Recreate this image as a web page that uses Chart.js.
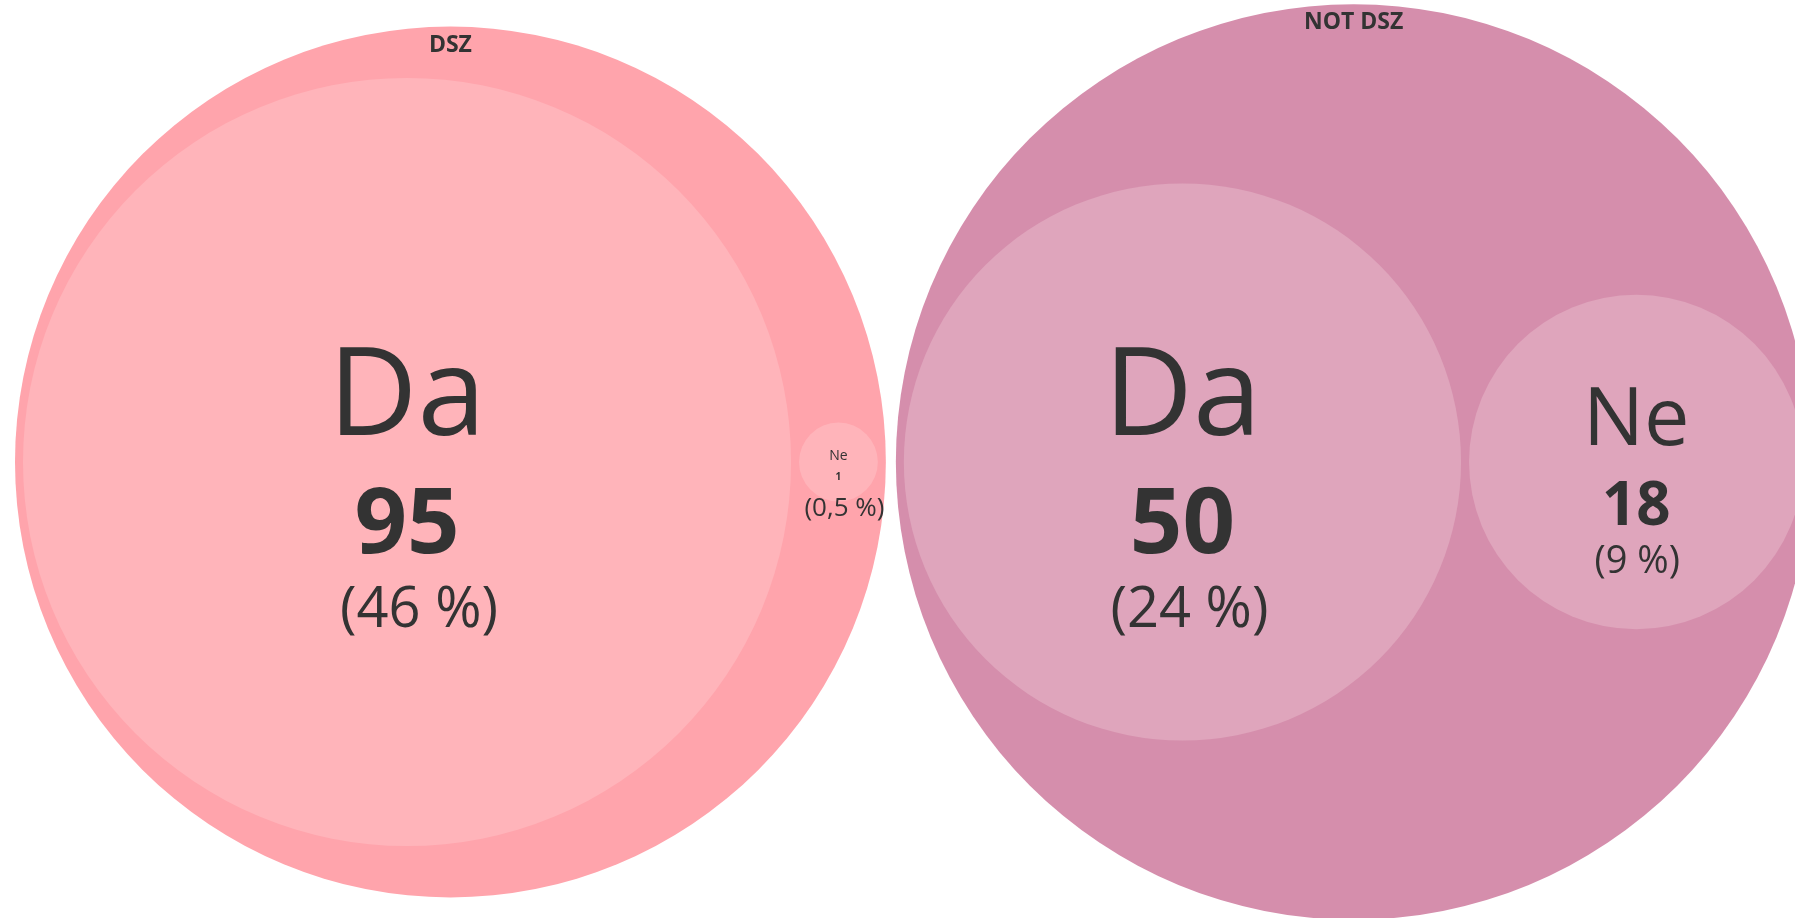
<!DOCTYPE html>
<html>
<head>
<meta charset="utf-8">
<script src="https://cdn.jsdelivr.net/npm/chart.js@4.4.1/dist/chart.umd.min.js"></script>
<style>
  html, body { margin: 0; padding: 0; background: #ffffff; overflow: hidden; }
  #wrap { width: 1795px; height: 918px; }
</style>
</head>
<body>
<div id="wrap"><canvas id="c" width="1795" height="918"></canvas></div>
<script>
// ---------------- data ----------------
const groups = ['DSZ', 'NOT DSZ'];
const categories = ['Da', 'Ne'];
const dszValues = [95, 1];
const notDszValues = [50, 18];
const dszPercents = ['46 %', '0,5 %'];
const notDszPercents = ['24 %', '9 %'];

// ---------------- styles / layout constants ----------------
const W = 1795, H = 918;
const SQRT_SCALE = 39.4;     // px radius per sqrt(value)
const PAD = 8;               // gap between siblings and inside a parent
const GROUP_GAP = 10;        // gap between group circles
const LEFT = 15;             // left margin of first group circle
const CY = 462;              // vertical centre line
const groupColors = ['#FFA4AC', '#D58EAC'];
const leafColors  = ['#FFB4BA', '#DFA5BC'];
const FONT = '"Open Sans", "Noto Sans", sans-serif';
const TEXT = '#333333';
// per-leaf label styles: sizes & offsets from circle centre
const leafStyles = [
  [ { name: 123, nameDy: -27, val: 92, valDy: 91, pct: 56, pctDy: 165, pctDx: 12 },
    { name: 14,  nameDy: -2,  val: 10, valDy: 18, pct: 26, pctDy: 54,  pctDx: 6 } ],
  [ { name: 123, nameDy: -27, val: 92, valDy: 91, pct: 56, pctDy: 165, pctDx: 7 },
    { name: 81,  nameDy: -17, val: 60, valDy: 63, pct: 38, pctDy: 111, pctDx: 1 } ]
];

// ---------------- simple left-to-right circle packing ----------------
const seriesValues = [dszValues, notDszValues];
const seriesPercents = [dszPercents, notDszPercents];
const groupPoints = [];
const leafPoints = [];
let cursor = LEFT;
seriesValues.forEach((vals, gi) => {
  const radii = vals.map(v => SQRT_SCALE * Math.sqrt(v));
  const span = radii.reduce((s, r) => s + 2 * r, 0) + PAD * (radii.length - 1);
  const R = span / 2 + PAD;
  const gx = cursor + R;
  groupPoints.push({ x: gx, y: CY, r: R, label: groups[gi], gi });
  let x = cursor + PAD;
  radii.forEach((r, li) => {
    leafPoints.push({ x: x + r, y: CY, r: r, gi, li,
      name: categories[li], value: vals[li], pct: seriesPercents[gi][li] });
    x += 2 * r + PAD;
  });
  cursor += 2 * R + GROUP_GAP;
});

// ---------------- label plugin ----------------
const labelPlugin = {
  id: 'packLabels',
  afterDatasetsDraw(chart) {
    const ctx = chart.ctx;
    ctx.save();
    ctx.fillStyle = TEXT;
    ctx.textAlign = 'center';
    ctx.textBaseline = 'alphabetic';
    chart.getDatasetMeta(0).data.forEach((el, i) => {
      const r = el.options.radius;
      ctx.font = 'bold 23px ' + FONT;
      ctx.fillText(groupPoints[i].label, el.x, el.y - r + 25);
    });
    chart.getDatasetMeta(1).data.forEach((el, i) => {
      const p = leafPoints[i];
      const s = leafStyles[p.gi][p.li];
      ctx.font = '400 ' + s.name + 'px ' + FONT;
      ctx.fillText(p.name, el.x, el.y + s.nameDy);
      ctx.font = 'bold ' + s.val + 'px ' + FONT;
      ctx.fillText(String(p.value), el.x, el.y + s.valDy);
      ctx.font = '400 ' + s.pct + 'px ' + FONT;
      ctx.fillText('(' + p.pct + ')', el.x + s.pctDx, el.y + s.pctDy);
    });
    ctx.restore();
  }
};

new Chart(document.getElementById('c'), {
  type: 'bubble',
  data: {
    datasets: [
      {
        label: 'groups',
        order: 2,
        clip: false,
        data: groupPoints,
        backgroundColor: groupPoints.map(p => groupColors[p.gi]),
        borderWidth: 0,
        hoverBorderWidth: 0
      },
      {
        label: 'leaves',
        order: 1,
        clip: false,
        data: leafPoints,
        backgroundColor: leafPoints.map(p => leafColors[p.gi]),
        borderWidth: 0,
        hoverBorderWidth: 0
      }
    ]
  },
  options: {
    responsive: false,
    animation: false,
    events: [],
    layout: { padding: 0, autoPadding: false },
    scales: {
      x: { type: 'linear', min: 0, max: W, display: false },
      y: { type: 'linear', min: 0, max: H, reverse: true, display: false }
    },
    plugins: { legend: { display: false }, tooltip: { enabled: false } }
  },
  plugins: [labelPlugin]
});
</script>
</body>
</html>
